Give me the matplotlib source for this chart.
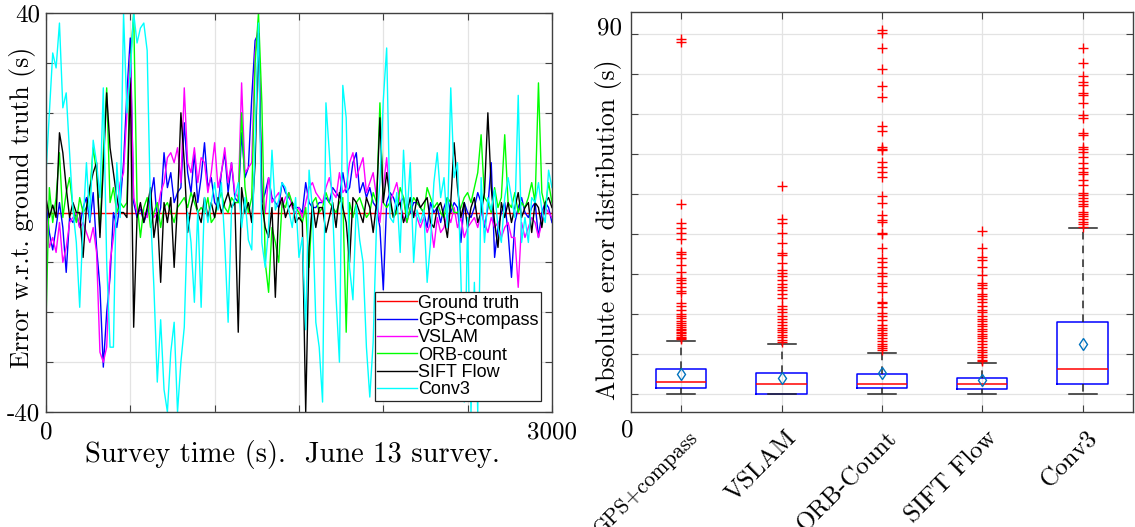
import matplotlib
matplotlib.use("Agg")
import matplotlib.pyplot as plt
import matplotlib.transforms as mtransforms
import numpy as np

# localisation error w.r.t. ground truth (s), one sample every 20 s
survey_end = 3000
ground_truth = 0.0

gps_compass = [
    2, -4, -7.5, -3, 2, -3, -12, -1, -2, 0,
    -3, 1, 3, -2, 4, -7, -15, -31, -20, -13,
    0, -3, 2, 10, 24, 35, 2, -1, 1, -2,
    0, 3, 7, -2, 1, 12, 5, 8, 2, 4,
    5, 18, 8, 4, 12, 2, 7, 14, 5, 7,
    2, 1, 8, 12, 4, 10, 3, 2, 16, 7,
    9, 23, 34.5, 36, 2, 4, 7, 3, 2, 1,
    6, 4, 3, 2, 1, 1, 0, 6, 2, 1,
    1, 2, 2, 3, 2, 5, 4, 3, 8, 4,
    5, 10, 12, 4, 6, 3, 5, 2, 1, -3,
    -15.5, 2, 4, 3, 1, 2, 3, -1, 0, 2,
    2, 1, 0, -3, 2, 0, 1, -2, 1, 3,
    0, 2, 1, -6, 2, 0, -1, 1, 4, 2,
    -3, 1, 10, -9, -3, 0, 2, -4, -13, -2,
    1, 3, 0, -1, 1, 2, -5, 0, 2, 1, -2,
]

vslam = [
    0, -7, -5, -8, -2, -10, -7, -2, -1, 0,
    -3, -2, -4, -6, -3, -8, -28, -30, -27, -10,
    -5, 1, 6, 8, 20, 31.8, 3, 0, 1, 0,
    -1, 2, -1, 0, 4, 6, 11, 12, 10, 13,
    6, 25, 10, 8, 13, 6, 11, 10, 4, 8,
    14, 5, 8, 13, 6, 10, 4, 3, 26, 8,
    9, 10, 32, 38, 4, 0, 7, 2, 3, 4,
    1, 3, 4, 1, 0, 1, -1, 2, 5, 6,
    4, 3, 2, 5, 7, 4, 3, 8, 4, 5,
    10, 12, 7, 9, 11, 4, 6, 8, 3, -2,
    5, 11, 2, 4, 6, 2, -1, -2, 1, 0,
    -1, -3, -1, -4, -2, -7, -1, -4, -3, 0,
    -2, 1, -3, -1, -5, -3, -2, -1, -3, 0,
    -2, -4, -1, -3, -2, -5, -3, -2, -5, -5,
    -15, -2, -5, -3, -1, -2, -5, -2, 1, 0, -1,
]

orb_count = [
    -22, 5, -2, 3, 12, -1, 4, 7, 1, -2,
    3, 0, 1, 4, 13, 8, -4, 12, 25, 2,
    5, 0, 2, 1, 2, 30, 40, 2, -5, 1,
    3, -3, 0, 2, -3, 1, 2, 0, -2, 1,
    2, 3, 1, 4, 2, 0, 1, 0, 3, -2,
    -1, 2, 4, 1, 0, 3, 2, 2, 20, 5,
    0, 3, 30, 40, 22, -10, -16, -3, -6, -10,
    2, 1, 4, 2, 1, 0, -2, 1, -11, 2,
    3, 0, 1, 4, 2, 1, 0, 2, 3, -24,
    2, -1, 2, 3, 1, -1, 0, 4, 2, 22,
    2, 1, 2, -1, 0, 5, 3, -2, 1, 3,
    2, 1, 0, 5, 3, 1, 2, 0, -1, 3,
    2, 0, 0, 1, 3, 4, 2, 5, 8, 15.6,
    3, 2, 0, 5, 1, 3, 15.6, 2, 1, 4,
    0, 2, 1, 3, 6, 2, 26, 4, 1, 6, 2,
]

sift_flow = [
    3, -1, 1.5, -1, 16, 12, 5, -1, 2, 0,
    0, -9, 1, 5, 8, 10, -5, 9, 24, 13,
    8, 3, 0, 0, -1, 27, -23, -1, 2, -2,
    1, 5, -5, 0, -14, 2, -2, 3, -11, 2,
    20, 10, -4, 1, 4, 0, -2, 3, -1, 2,
    -1, 3, 0, 2, 4, 1, 2, -24, 5, 0,
    2, -2, 10, 36, 2, -3, -5, 1, -17, 1,
    3, -1, 1, 2, -2, -1, -2, -40, -7, 2,
    -3, 1, 1, -4, -1, 2, -3, 4, 1, -2,
    -10, 3, 2, 0, -2, 3, 1, -4, 2, 19,
    2, 8, 3, -1, 1, 2, -2, 0, 3, -1,
    3, 1, 2, 3, -2, -3, 1, 2, -1, -5,
    2, 14, 5, -1, 2, -3, 1, 3, -2, 0,
    4, 20, 5, -2, -7, 2, -1, 2, -2, 1,
    4, -1, 1, 2, -4, 2, 1, -3, 2, 3, 1,
]

conv3 = [
    7.8, 20, 32, 29, 38, 21, 24, 12, 0.5, -6,
    -19, -2, 10, -1.5, 14.5, 10, 3, 25, -10, -27,
    -27, 10, -1, 40, 20, 28, 40, 34, 37, 38,
    32.5, 0, -15, -34, -21.5, -35.5, -40, -28, -22, -40,
    -30, -23, 0, -6, -18, 0.5, -19, 3, -2, 2,
    6, 0.5, 6, -6, -22, 0.5, 3, 6, -3, 3,
    -5.5, -7.5, 14, 38, -6, -11, -3, 12.5, 0.5, 2.5,
    6, 5, 0.5, -3, 3, -9, -5, -23.5, 8.5, 0.5,
    -22, -27, -38, 22, 12, 0.5, -17, -30, 25.5, 19,
    -11, -17.5, 1.5, -5.5, -10, -27, -37, -26, -2, 6,
    22.5, 33, -1, -2, 4, -8, 12.5, -1, 10, -10,
    0.5, -2, 0.5, -14, -6, 6, 12, 3, 7, -3,
    25, 7, 10, -13, -38, -1, -40, -14, -40, 7,
    -6, 3, 0.5, 4.5, -3, -6, 3, 7, 3, -1,
    23.5, -6, -1, -6, 3, 2, 6, 0.5, -2, 8.5, 5,
]

# absolute error distribution per method (s)
methods = ["GPS+compass", "VSLAM", "ORB-Count", "SIFT Flow", "Conv3"]
whisker_lo = [0, 0, 0, 0, 0]
q1 = [1.5, 0.0, 1.4, 1.2, 2.4]
medians = [3.0, 2.4, 2.4, 2.4, 6.25]
q3 = [6.2, 5.2, 5.0, 3.9, 18.1]
whisker_hi = [13.2, 12.6, 10.3, 7.8, 41.6]
means = [5.0, 3.9, 5.2, 3.5, 12.5]

fliers_gps = [88.7, 88.1, 47.4, 42.8, 41.4, 40.2, 38.8, 35.6, 35.0, 34.0,
              32.2, 30.6, 29.1, 28.5, 27.8, 26.8, 25.8, 25.2, 22.8, 22.0,
              21.0, 19.9, 19.5, 18.9, 18.3, 17.8, 17.2, 16.8, 16.3, 16.0,
              15.5, 15.2, 14.8, 14.3, 14.0, 13.7]
fliers_vslam = [52.1, 43.7, 42.8, 40.2, 37.7, 35.3, 34.8, 32.7, 31.0, 30.2,
                29.5, 28.5, 27.6, 26.8, 26.0, 25.0, 24.0, 22.0, 21.2, 20.5,
                19.5, 18.8, 18.0, 17.2, 16.6, 16.0, 15.4, 14.8, 14.2, 13.6, 13.1]
fliers_orb = [91.0, 90.2, 86.4, 81.2, 77.0, 74.2, 67.0, 65.7, 61.8, 61.3,
              60.9, 58.1, 56.8, 55.5, 54.3, 49.5, 47.8, 44.7, 43.5, 43.0,
              40.2, 39.9, 36.4, 33.9, 33.1, 31.8, 30.2, 29.5, 27.7, 27.0,
              25.6, 23.1, 22.7, 21.8, 20.2, 19.5, 18.5, 17.3, 16.6, 16.0,
              15.3, 14.7, 14.0, 13.3, 12.6, 12.0, 11.6, 11.1]
fliers_sift = [40.8, 36.4, 34.3, 33.5, 31.8, 29.8, 27.8, 27.2, 26.5, 25.0,
               24.4, 23.7, 23.0, 22.0, 21.0, 20.4, 19.4, 18.8, 18.3, 17.6,
               17.0, 16.3, 15.8, 15.1, 14.5, 13.9, 13.2, 12.5, 11.8, 11.1,
               10.5, 9.8, 9.2, 8.6, 8.2]
fliers_conv3 = [86.4, 82.7, 79.5, 78.0, 77.3, 75.3, 74.7, 72.7, 69.8, 69.0,
                65.3, 64.8, 61.8, 61.2, 60.6, 59.3, 57.7, 56.5, 55.6, 55.0,
                53.5, 52.3, 50.3, 49.8, 49.0, 48.3, 47.6, 47.0, 45.6, 45.1,
                44.4, 43.8, 43.0, 42.4, 41.8]
fliers = [fliers_gps, fliers_vslam, fliers_orb, fliers_sift, fliers_conv3]

plt.rcParams["font.family"] = ["cmr10", "DejaVu Serif"]
plt.rcParams["axes.unicode_minus"] = False
plt.rcParams["axes.formatter.use_mathtext"] = True

spine_col = "#404040"
grid_col = "#e3e3e3"

fig = plt.figure(figsize=(11.35, 5.27), dpi=100)
ax1 = fig.add_axes([0.0405, 0.2182, 0.4458, 0.757])
ax2 = fig.add_axes([0.556, 0.2182, 0.442, 0.759])

for ax in (ax1, ax2):
    for s in ax.spines.values():
        s.set_color(spine_col)
        s.set_linewidth(1.0)
    ax.set_axisbelow(True)
    ax.grid(True, color=grid_col, lw=0.9)
    ax.tick_params(direction="in", top=True, right=True, length=5, width=0.8,
                   color=spine_col, labelsize=18)

# left: error traces over the survey
t = np.linspace(0, survey_end, len(conv3))
ax1.axhline(ground_truth, color="red", lw=1, label="Ground truth")
ax1.plot(t, gps_compass, color="#0000ff", lw=1, label="GPS+compass")
ax1.plot(t, vslam, color="#ff00ff", lw=1, label="VSLAM")
ax1.plot(t, orb_count, color="#00ff00", lw=1, label="ORB-count")
ax1.plot(t, sift_flow, color="black", lw=1, label="SIFT Flow")
ax1.plot(t, conv3, color="#00ffff", lw=1, label="Conv3")

ax1.set_xlim(0, survey_end)
ax1.set_ylim(-40, 40)
xt = np.arange(0, survey_end + 1, 500)
ax1.set_xticks(xt)
ax1.set_xticklabels(["0"] + [""] * (len(xt) - 2) + ["3000"])
yt = np.arange(-40, 41, 10)
ax1.set_yticks(yt)
ax1.set_yticklabels(["-40"] + [""] * (len(yt) - 2) + ["40"])
ax1.tick_params(axis="x", pad=7)
ax1.tick_params(axis="y", pad=4)
ax1.set_xlabel("Survey time (s).  June 13 survey.", fontsize=20.5)
ax1.xaxis.set_label_coords(0.488, -0.07)
ax1.set_ylabel("Error w.r.t. ground truth (s)", fontsize=18.5)
ax1.yaxis.set_label_coords(-0.02, 0.514)

leg = ax1.legend(loc="lower right", prop={"family": "Liberation Sans", "size": 13},
                 frameon=True, fancybox=False, framealpha=1, edgecolor="#262626",
                 borderpad=0.15, labelspacing=0.02, handlelength=2.2,
                 handletextpad=0.05, borderaxespad=0.6)
leg.get_frame().set_linewidth(0.9)

# right: box plots of absolute error
stats = []
for i, name in enumerate(methods):
    stats.append(dict(label=name, whislo=whisker_lo[i], q1=q1[i], med=medians[i],
                      q3=q3[i], whishi=whisker_hi[i], mean=means[i], fliers=fliers[i]))
pos = np.arange(1, len(methods) + 1)
ax2.bxp(stats, positions=pos, widths=0.5, capwidths=0.28, showmeans=True,
        boxprops=dict(color="#0000ff", lw=1.1),
        medianprops=dict(color="red", lw=1.1),
        whiskerprops=dict(color="#262626", lw=1.1, linestyle=(0, (5, 4))),
        capprops=dict(color="#262626", lw=1.1),
        flierprops=dict(marker="+", markeredgecolor="red", markersize=6.5,
                        markeredgewidth=1, linestyle="none"),
        meanprops=dict(marker="d", markerfacecolor="none", markeredgecolor="#0072bd",
                       markersize=6.5, markeredgewidth=1.0))

ax2.set_xlim(0.5, len(methods) + 0.5)
ax2.set_ylim(-4.5, 95.5)
ax2.set_yticks(np.arange(0, 91, 10))
ax2.set_yticklabels([])
ax2.set_xticks(pos)
ax2.set_xticklabels([])

# slanted method names, top-right corner just below each tick
name_tr = ax2.get_xaxis_transform() + mtransforms.ScaledTranslation(
    0.20, -0.15, fig.dpi_scale_trans)
for p, name in zip(pos, methods):
    ax2.text(p, 0, name, transform=name_tr, rotation=45, ha="right", va="top",
             fontsize=15.5 if name == "GPS+compass" else 18)

ax2.text(-0.018, 0.96, "90", transform=ax2.transAxes, ha="right", va="center",
         fontsize=18)
ax2.text(-0.008, -0.045, "0", transform=ax2.transAxes, ha="center", va="center",
         fontsize=18)
ax2.set_ylabel("Absolute error distribution (s)", fontsize=18.5)
ax2.yaxis.set_label_coords(-0.018, 0.455)

fig.savefig("out.png", dpi=100)
